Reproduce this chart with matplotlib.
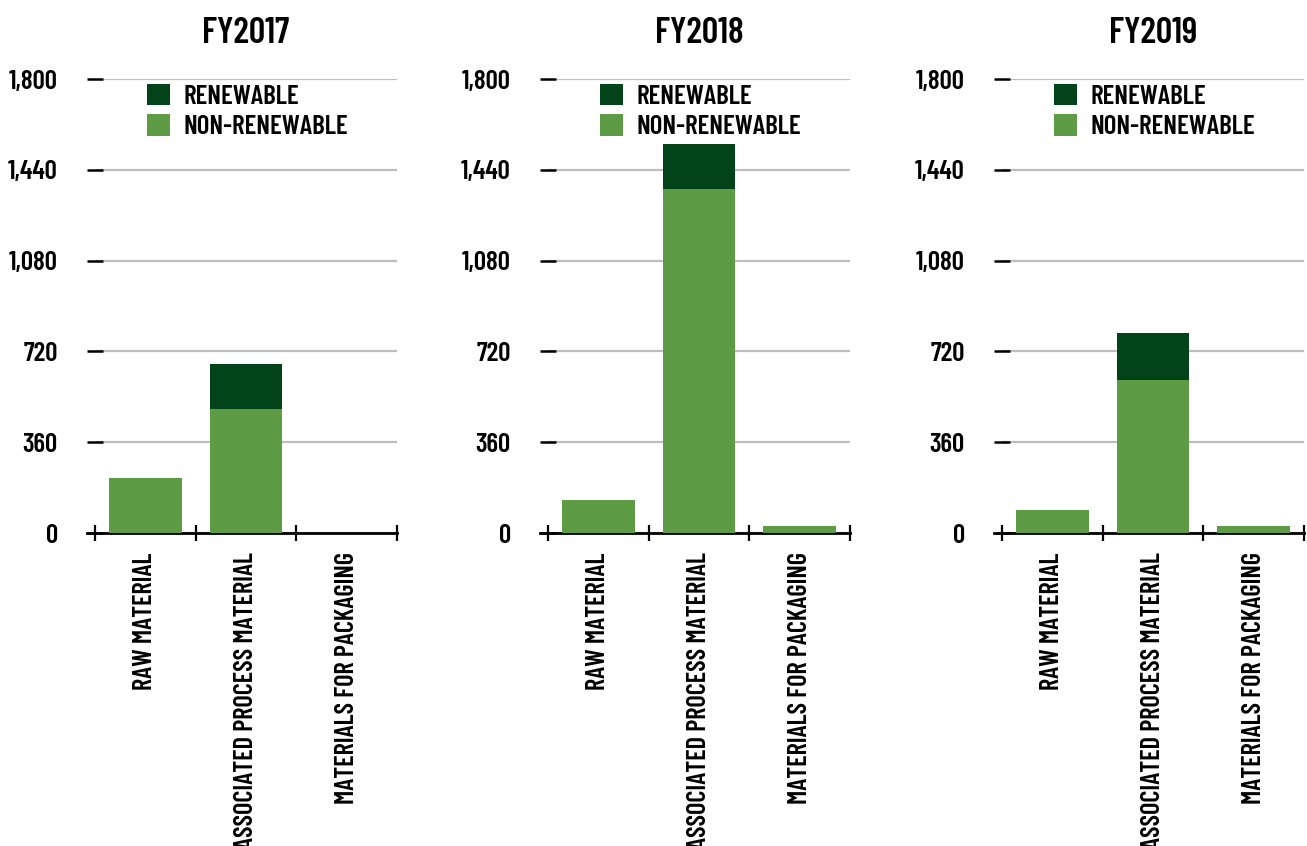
import matplotlib
matplotlib.use("Agg")
import matplotlib.pyplot as plt
import numpy as np

years = ["FY2017", "FY2018", "FY2019"]
categories = ["RAW MATERIAL", "ASSOCIATED PROCESS MATERIAL", "MATERIALS FOR PACKAGING"]
non_renewable = {
    "FY2017": [218, 492, 0],
    "FY2018": [130, 1364, 27],
    "FY2019": [90, 608, 27],
}
renewable = {
    "FY2017": [0, 180, 0],
    "FY2018": [0, 180, 0],
    "FY2019": [0, 183, 0],
}
y_ticks = [0, 360, 720, 1080, 1440, 1800]
y_tick_labels = ["0", "360", "720", "1,080", "1,440", "1,800"]

DARK = "#03431A"
LIGHT = "#5D9B45"
GRID = "#BDBDBD"

plt.rcParams["font.family"] = ["Barlow Condensed", "DejaVu Sans"]
plt.rcParams["font.weight"] = 600

W, H = 1307, 846
fig = plt.figure(figsize=(W / 100, H / 100), dpi=100)

lefts = [95, 548, 1002]
ax_w = 302
ax_top = 79
ax_bot = 533
WT = 600

for i, yr in enumerate(years):
    ax = fig.add_axes([lefts[i] / W, (H - ax_bot) / H, ax_w / W, (ax_bot - ax_top) / H])
    x = np.arange(len(categories))
    nr = np.array(non_renewable[yr])
    rn = np.array(renewable[yr])
    ax.bar(x, nr, width=0.72, color=LIGHT, label="NON-RENEWABLE", zorder=3)
    ax.bar(x, rn, width=0.72, bottom=nr, color=DARK, label="RENEWABLE", zorder=3)
    ax.set_xlim(-0.5, 2.5)
    ax.set_ylim(0, 1800)
    ax.set_yticks(y_ticks)
    ax.set_yticklabels(y_tick_labels, fontsize=19.5, fontweight=WT)
    ax.yaxis.grid(True, color=GRID, linewidth=1.6, zorder=0)
    ax.set_axisbelow(True)
    ax.tick_params(axis="y", direction="inout", length=11.5, width=1.8, color="black", pad=21)
    ax.set_xticks([-0.5, 0.5, 1.5, 2.5])
    ax.set_xticklabels([])
    ax.tick_params(axis="x", which="major", direction="inout", length=12, width=1.6, color="black")
    ax.set_xticks(x, minor=True)
    ax.set_xticklabels(categories, minor=True, rotation=90, fontsize=19, fontweight=WT, va="top", ha="center")
    ax.tick_params(axis="x", which="minor", length=0, pad=14)
    for s in ["top", "right", "left"]:
        ax.spines[s].set_visible(False)
    ax.spines["bottom"].set_linewidth(2)
    ax.spines["bottom"].set_bounds(-0.58, 2.5)
    ax.set_title(yr, fontsize=26, fontweight=WT, pad=26)
    handles, labels = ax.get_legend_handles_labels()
    ax.legend(handles[::-1], labels[::-1], loc="upper left", bbox_to_anchor=(0.172, 0.99),
              frameon=False, borderpad=0, borderaxespad=0,
              handlelength=0.85, handleheight=0.85, handletextpad=0.5, labelspacing=0.2,
              prop={"weight": WT, "size": 19.5})

fig.savefig("out.png", dpi=100)
